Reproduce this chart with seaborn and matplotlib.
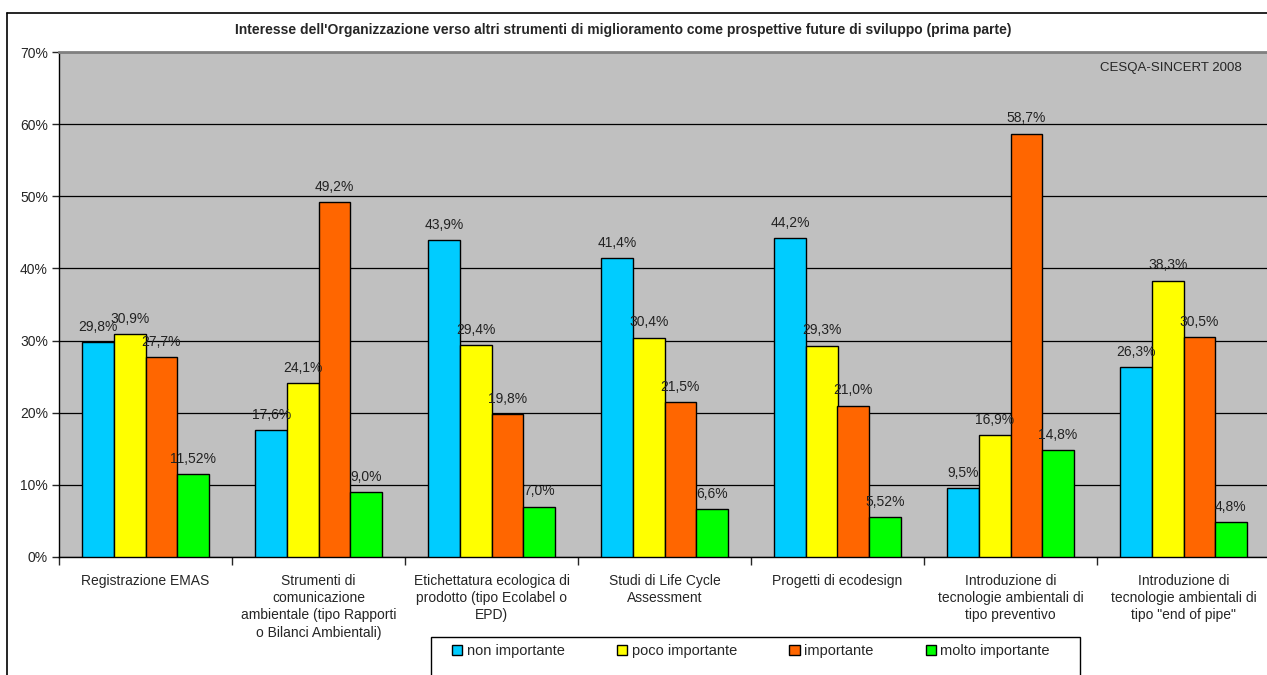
import matplotlib
matplotlib.use("Agg")
import matplotlib.pyplot as plt
import seaborn as sns
import pandas as pd
from matplotlib.lines import Line2D
from matplotlib.patches import Rectangle

# --- Data ---
strumenti = [
    "Registrazione EMAS",
    "Strumenti di\ncomunicazione\nambientale (tipo Rapporti\no Bilanci Ambientali)",
    "Etichettatura ecologica di\nprodotto (tipo Ecolabel o\nEPD)",
    "Studi di Life Cycle\nAssessment",
    "Progetti di ecodesign",
    "Introduzione di\ntecnologie ambientali di\ntipo preventivo",
    "Introduzione di\ntecnologie ambientali di\ntipo \"end of pipe\"",
]
livelli = ["non importante", "poco importante", "importante", "molto importante"]
non_importante = [29.8, 17.6, 43.9, 41.4, 44.2, 9.5, 26.3]
poco_importante = [30.9, 24.1, 29.4, 30.4, 29.3, 16.9, 38.3]
importante = [27.7, 49.2, 19.8, 21.5, 21.0, 58.7, 30.5]
molto_importante = [11.52, 9.0, 7.0, 6.6, 5.52, 14.8, 4.8]
colori = ["#00CCFF", "#FFFF00", "#FF6600", "#00FF00"]

serie = [non_importante, poco_importante, importante, molto_importante]
rows = []
for liv, vals in zip(livelli, serie):
    for s, v in zip(strumenti, vals):
        rows.append({"strumento": s, "importanza": liv, "valore": v})
df = pd.DataFrame(rows)

# --- Figure ---
sns.set_style("white")
plt.rcParams["font.family"] = ["Liberation Sans", "DejaVu Sans"]
W, H = 1267, 675
fig = plt.figure(figsize=(W / 100, H / 100), dpi=100)
ax = fig.add_axes([59 / W, (H - 557) / H, 1211 / W, 505 / H])
ax.set_facecolor("#C0C0C0")

sns.barplot(data=df, x="strumento", y="valore", hue="importanza",
            hue_order=livelli, palette=colori, saturation=1, width=0.73,
            edgecolor="black", linewidth=1, ax=ax, zorder=3)

# value labels (Italian decimal comma)
for cont, vals in zip(ax.containers, serie):
    labs = [str(v).replace(".", ",") + "%" for v in vals]
    ax.bar_label(cont, labels=labs, padding=6, fontsize=10, color="#222222")

# axes styling
ax.set_ylim(0, 70)
ax.set_xlim(-0.5, 6.5)
ax.set_yticks(range(0, 71, 10))
ax.set_yticklabels([f"{v}%" for v in range(0, 71, 10)], fontsize=10)
ax.yaxis.grid(True, color="black", linewidth=0.9)
ax.set_axisbelow(True)
ax.tick_params(axis="y", direction="out", length=5, width=1, left=True, pad=3)
ax.set_xticks(range(len(strumenti)))
ax.set_xticklabels(strumenti, fontsize=10, linespacing=1.3)
ax.set_xticks([i - 0.5 for i in range(len(strumenti) + 1)], minor=True)
ax.tick_params(axis="x", which="major", length=0, pad=12)
ax.tick_params(axis="x", which="minor", direction="out", length=6, width=1, bottom=True)
ax.set_xlabel("")
ax.set_ylabel("")
for side in ["left", "bottom"]:
    ax.spines[side].set_color("black")
    ax.spines[side].set_linewidth(1)
ax.spines["top"].set_color("#808080")
ax.spines["top"].set_linewidth(2)
ax.spines["right"].set_visible(False)

ax.text(1242 / W, 1 - 68 / H, "CESQA-SINCERT 2008", transform=fig.transFigure,
        ha="right", va="center", fontsize=9.5)

# title
fig.text(623 / W, 1 - 30 / H, "Interesse dell'Organizzazione verso altri strumenti di miglioramento come prospettive future di sviluppo (prima parte)",
         ha="center", va="center", fontsize=10, fontweight="bold")

# outer chart border
fig.add_artist(Line2D([7 / W, 7 / W], [0, 1 - 13 / H], color="black", linewidth=1.2))
fig.add_artist(Line2D([7 / W, 1], [1 - 13 / H, 1 - 13 / H], color="black", linewidth=1.2))

# legend (box runs off the bottom edge, as in the original)
fig.add_artist(Rectangle((431 / W, -0.02), (1080 - 431) / W, (H - 637) / H + 0.02,
                         transform=fig.transFigure, facecolor="white",
                         edgecolor="black", linewidth=1))
handles, labels = ax.get_legend_handles_labels()
ax.get_legend().remove()
leg = fig.legend(handles, labels, loc="center left",
                 bbox_to_anchor=(452 / W, 1 - 651 / H), ncol=4, fontsize=10.5,
                 frameon=False, handlelength=0.7, handleheight=0.7,
                 handletextpad=0.3, columnspacing=3.6, borderpad=0,
                 borderaxespad=0)

fig.savefig("out.png", dpi=100)
